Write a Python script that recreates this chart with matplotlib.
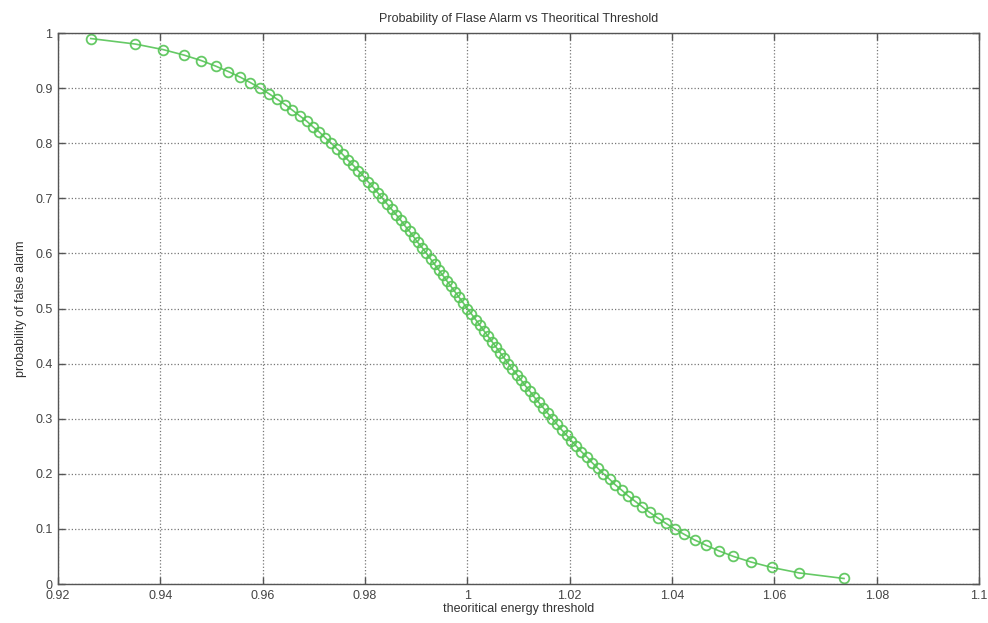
"""Probability of false alarm vs theoretical threshold (MATLAB-style look)."""
import matplotlib
matplotlib.use("Agg")
import matplotlib.pyplot as plt

plt.rcParams.update({
    "font.family": "sans-serif",
    "font.sans-serif": ["Liberation Sans", "Arial", "DejaVu Sans"],
    "axes.edgecolor": "#555555",
    "xtick.color": "#555555",
    "ytick.color": "#555555",
    "xtick.labelcolor": "#444444",
    "ytick.labelcolor": "#444444",
})

# ----- data -----
pfa = [0.99, 0.98, 0.97, 0.96, 0.95, 0.94, 0.93, 0.92, 0.91, 0.90,
       0.89, 0.88, 0.87, 0.86, 0.85, 0.84, 0.83, 0.82, 0.81, 0.80,
       0.79, 0.78, 0.77, 0.76, 0.75, 0.74, 0.73, 0.72, 0.71, 0.70,
       0.69, 0.68, 0.67, 0.66, 0.65, 0.64, 0.63, 0.62, 0.61, 0.60,
       0.59, 0.58, 0.57, 0.56, 0.55, 0.54, 0.53, 0.52, 0.51, 0.50,
       0.49, 0.48, 0.47, 0.46, 0.45, 0.44, 0.43, 0.42, 0.41, 0.40,
       0.39, 0.38, 0.37, 0.36, 0.35, 0.34, 0.33, 0.32, 0.31, 0.30,
       0.29, 0.28, 0.27, 0.26, 0.25, 0.24, 0.23, 0.22, 0.21, 0.20,
       0.19, 0.18, 0.17, 0.16, 0.15, 0.14, 0.13, 0.12, 0.11, 0.10,
       0.09, 0.08, 0.07, 0.06, 0.05, 0.04, 0.03, 0.02, 0.01]

threshold = [0.9264, 0.9351, 0.9405, 0.9446, 0.9480, 0.9508, 0.9533, 0.9556, 0.9576, 0.9595,
             0.9612, 0.9628, 0.9644, 0.9658, 0.9672, 0.9686, 0.9698, 0.9711, 0.9722, 0.9734,
             0.9745, 0.9756, 0.9766, 0.9777, 0.9787, 0.9797, 0.9806, 0.9816, 0.9825, 0.9834,
             0.9843, 0.9852, 0.9861, 0.9870, 0.9878, 0.9887, 0.9895, 0.9903, 0.9912, 0.9920,
             0.9928, 0.9936, 0.9944, 0.9952, 0.9960, 0.9968, 0.9976, 0.9984, 0.9992, 1.0000,
             1.0008, 1.0016, 1.0024, 1.0032, 1.0040, 1.0048, 1.0056, 1.0064, 1.0072, 1.0080,
             1.0088, 1.0097, 1.0105, 1.0113, 1.0122, 1.0130, 1.0139, 1.0148, 1.0157, 1.0166,
             1.0175, 1.0184, 1.0194, 1.0203, 1.0213, 1.0223, 1.0234, 1.0244, 1.0255, 1.0266,
             1.0278, 1.0289, 1.0302, 1.0314, 1.0328, 1.0342, 1.0356, 1.0372, 1.0388, 1.0405,
             1.0424, 1.0444, 1.0467, 1.0492, 1.0520, 1.0554, 1.0595, 1.0649, 1.0736]

x_ticks = [0.92, 0.94, 0.96, 0.98, 1.0, 1.02, 1.04, 1.06, 1.08, 1.1]
x_ticklabels = ["0.92", "0.94", "0.96", "0.98", "1", "1.02", "1.04", "1.06", "1.08", "1.1"]
y_ticks = [0, 0.1, 0.2, 0.3, 0.4, 0.5, 0.6, 0.7, 0.8, 0.9, 1]
y_ticklabels = ["0", "0.1", "0.2", "0.3", "0.4", "0.5", "0.6", "0.7", "0.8", "0.9", "1"]

fig = plt.figure(figsize=(9.88, 6.23), dpi=100)
ax = fig.add_axes([0.0587, 0.0626, 0.9323, 0.8844])

ax.plot(threshold, pfa, "-o", color="#55c455", linewidth=1.2,
        markersize=7, markerfacecolor="none", markeredgewidth=1.3, alpha=0.9)

ax.set_xlim(0.92, 1.1)
ax.set_ylim(0, 1)
ax.set_xticks(x_ticks)
ax.set_xticklabels(x_ticklabels)
ax.set_yticks(y_ticks)
ax.set_yticklabels(y_ticklabels)

ax.grid(True, linestyle=":", color="#777777", linewidth=0.9)
ax.tick_params(direction="in", length=5, width=1.0, top=True, right=True,
               labelsize=9, pad=4)
for sp in ax.spines.values():
    sp.set_linewidth(1.0)

ax.set_title("Probability of Flase Alarm vs Theoritical Threshold",
             fontsize=9, color="#333333", pad=8)
ax.set_xlabel("theoritical energy threshold", fontsize=9, color="#333333", labelpad=1)
ax.set_ylabel("probability of false alarm", fontsize=9, color="#333333", labelpad=6)

fig.savefig("out.png", dpi=100)
